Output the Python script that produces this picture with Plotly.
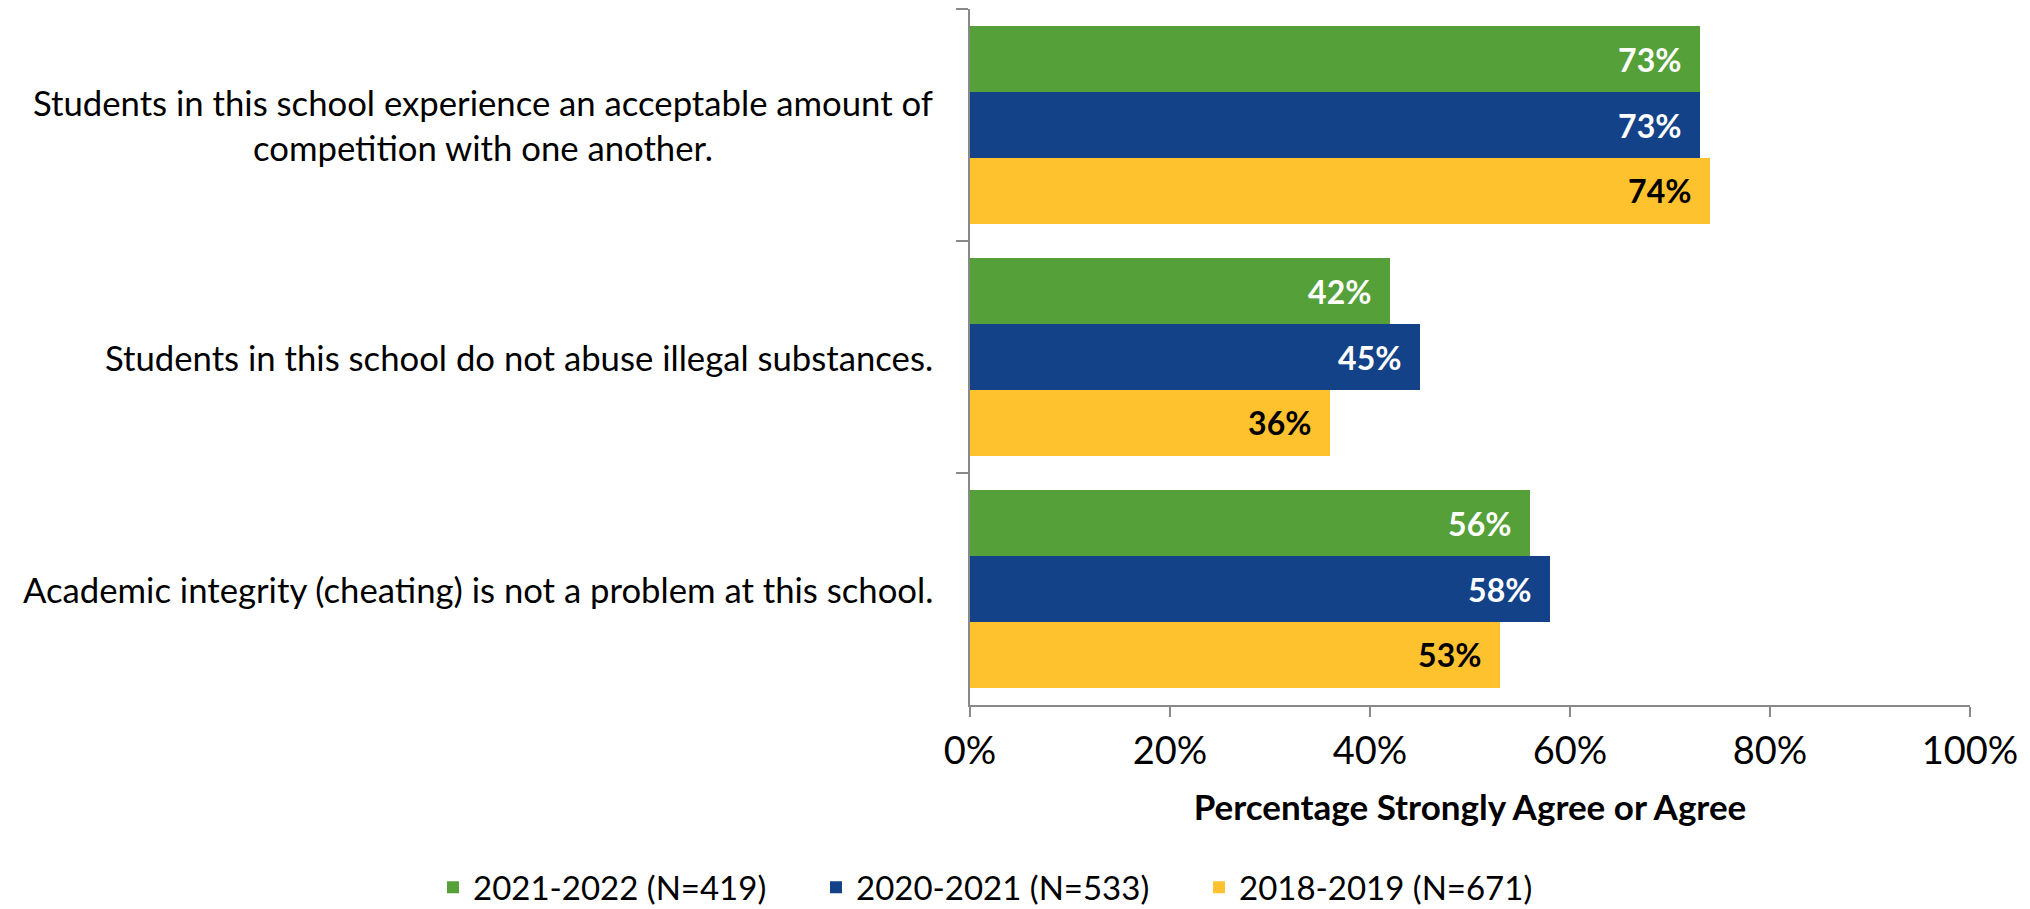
import plotly.graph_objects as go

categories = [
    "Students in this school experience an acceptable amount of<br>competition with one another.",
    "Students in this school do not abuse illegal substances.",
    "Academic integrity (cheating) is not a problem at this school.",
]
series_names = ["2021-2022 (N=419)", "2020-2021 (N=533)", "2018-2019 (N=671)"]
vals_2122 = [73, 42, 56]
vals_2021 = [73, 45, 58]
vals_1819 = [74, 36, 53]
colors = ["#55A038", "#134289", "#FFC22F"]
text_colors = ["white", "white", "black"]
x_ticks = [0, 20, 40, 60, 80, 100]

FONT = "Lato"
fig = go.Figure()
for name, vals, col, tc in zip(series_names, [vals_2122, vals_2021, vals_1819], colors, text_colors):
    fig.add_trace(go.Bar(
        y=categories, x=vals, name=name, orientation="h",
        marker=dict(color=col, line=dict(width=0)),
        text=[f"{v}%\u00a0\u00a0" for v in vals],
        textposition="inside", insidetextanchor="end",
        textfont=dict(family=FONT, size=32, color=tc, weight="bold"),
        constraintext="none",
        hoverinfo="skip",
    ))

# category labels as centered multi-line annotations
for c in categories:
    fig.add_annotation(
        x=-0.035, xref="paper", y=c, yref="y", xanchor="right", yanchor="middle",
        text=c, align="center", showarrow=False,
        font=dict(family=FONT, size=34.7, color="black"),
    )

fig.update_layout(
    width=2022, height=901,
    margin=dict(l=962, r=60, t=1, b=204, autoexpand=False),
    barmode="group", bargap=0.147, bargroupgap=0,
    plot_bgcolor="white", paper_bgcolor="white",
    font=dict(family=FONT, size=32, color="black"),
    showlegend=True,
    legend=dict(orientation="h", x=-0.537, xanchor="left",
                y=-0.262, yanchor="middle",
                font=dict(family=FONT, size=33, color="black"), traceorder="normal",
                entrywidth=338, entrywidthmode="pixels"),
)
fig.update_yaxes(
    autorange="reversed", tickson="boundaries", ticks="outside", ticklen=12,
    tickcolor="#898989", tickwidth=2, showline=True, linecolor="#898989", linewidth=2,
    showgrid=False, showticklabels=False,
)
fig.update_xaxes(
    range=[0, 100], tickvals=x_ticks, ticktext=[f"{t}%" for t in x_ticks],
    ticks="outside", ticklen=10, tickcolor="#898989", tickwidth=2,
    showline=True, linecolor="#898989", linewidth=2, showgrid=False, zeroline=False,
    tickfont=dict(family=FONT, size=38), ticklabelstandoff=1,
    title=dict(text="<b>Percentage Strongly Agree or Agree</b>", font=dict(family=FONT, size=35), standoff=25),
)
fig.write_html("out.html")
